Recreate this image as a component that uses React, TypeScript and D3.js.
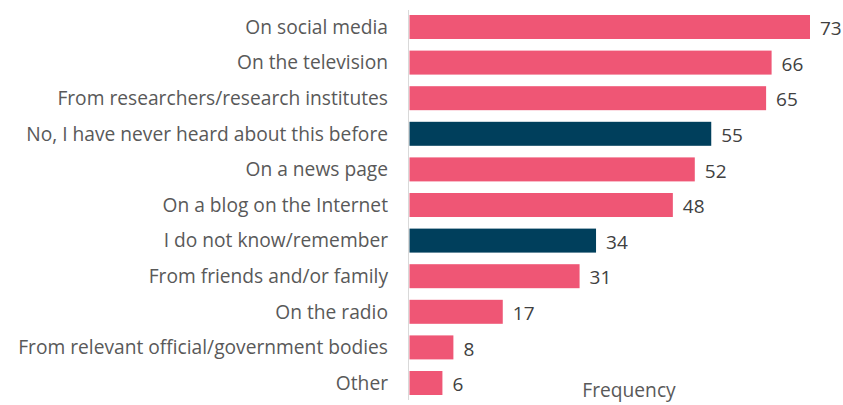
import React from 'react';
import * as d3 from 'd3';

const categories = [
  'On social media',
  'On the television',
  'From researchers/research institutes',
  'No, I have never heard about this before',
  'On a news page',
  'On a blog on the Internet',
  'I do not know/remember',
  'From friends and/or family',
  'On the radio',
  'From relevant official/government bodies',
  'Other',
];
const values = [73, 66, 65, 55, 52, 48, 34, 31, 17, 8, 6];
const highlighted = ['No, I have never heard about this before', 'I do not know/remember'];

const width = 843;
const height = 405;
const font = '"Open Sans", "Noto Sans", sans-serif';

export default function App() {
  const x = d3.scaleLinear().domain([0, 73]).range([409.5, 810]);
  const y = d3.scaleBand<string>().domain(categories).range([15, 395]).paddingInner(0.326);

  return (
    <svg width={width} height={height} style={{ position: 'absolute', left: 0, top: 0, background: '#fff' }}>
      {categories.map((c, i) => {
        const yy = y(c) ?? 0;
        const bh = y.bandwidth();
        return (
          <g key={c}>
            <rect
              x={x(0)}
              y={yy}
              width={x(values[i]) - x(0)}
              height={bh}
              fill={highlighted.includes(c) ? '#003f5c' : '#ef5675'}
            />
            <text
              x={388}
              y={yy + bh / 2}
              dy="0.35em"
              textAnchor="end"
              fontFamily={font}
              fontSize={19.2}
              fill="#595959"
            >
              {c}
            </text>
            <text
              x={x(values[i]) + 10}
              y={yy + bh / 2 + 1.5}
              dy="0.35em"
              fontFamily={font}
              fontSize={19}
              fill="#404040"
            >
              {values[i]}
            </text>
          </g>
        );
      })}
      <line x1={408.5} x2={408.5} y1={10} y2={400} stroke="#d9d9d9" strokeWidth={1} />
      <text x={629} y={397} textAnchor="middle" fontFamily={font} fontSize={19.2} fill="#595959">
        Frequency
      </text>
    </svg>
  );
}
